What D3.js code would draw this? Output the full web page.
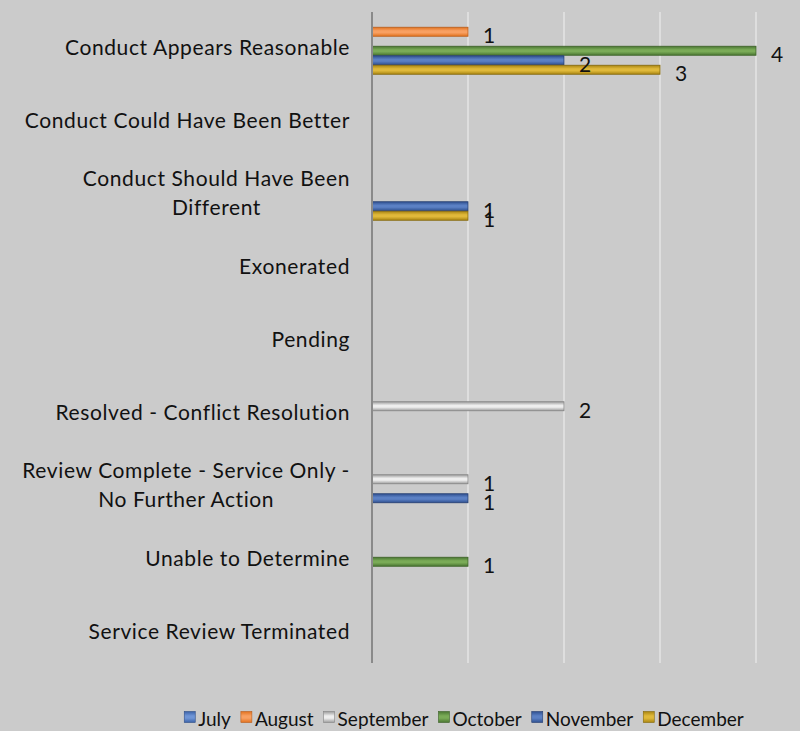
<!DOCTYPE html>
<html>
<head>
<meta charset="utf-8">
<script src="https://cdn.jsdelivr.net/npm/d3@7"></script>
<style>
  html, body { margin: 0; padding: 0; background: #cbcbcb; }
  svg { display: block; }
  text { font-family: "Lato", "Liberation Sans", sans-serif; fill: #111; }
</style>
</head>
<body>
<svg id="chart" width="800" height="731"></svg>
<script>
// ---- data ----
const categories = [
  ["Conduct Appears Reasonable"],
  ["Conduct Could Have Been Better"],
  ["Conduct Should Have Been", "Different"],
  ["Exonerated"],
  ["Pending"],
  ["Resolved - Conflict Resolution"],
  ["Review Complete - Service Only -", "No Further Action"],
  ["Unable to Determine"],
  ["Service Review Terminated"]
];
const seriesNames = ["July", "August", "September", "October", "November", "December"];
const july      = [null, null, null, null, null, null, null, null, null];
const august    = [1,    null, null, null, null, null, null, null, null];
const september = [null, null, null, null, null, 2,    1,    null, null];
const october   = [4,    null, null, null, null, null, null, 1,    null];
const november  = [2,    null, 1,    null, null, null, 1,    null, null];
const december  = [3,    null, 1,    null, null, null, null, null, null];
const xTicks = [0, 1, 2, 3, 4];

const seriesValues = [july, august, september, october, november, december];
const colors = {
  July:      { mid: "#6f95d6", edge: "#3b62a8", stroke: "#2f4f88" },
  August:    { mid: "#f8a062", edge: "#e2721f", stroke: "#b85e1e" },
  September: { mid: "#eeeeee", edge: "#9c9c9c", stroke: "#858585" },
  October:   { mid: "#7aab57", edge: "#4a7632", stroke: "#3d6228" },
  November:  { mid: "#5b80c4", edge: "#2f5090", stroke: "#263f72" },
  December:  { mid: "#e0b93a", edge: "#a98512", stroke: "#86690c" }
};

// ---- layout ----
const svg = d3.select("#chart");
const plotLeft = 372, plotRight = 756, plotTop = 9.5, plotBottom = 666.5;
const fontSize = 21;

const x = d3.scaleLinear().domain([0, 4]).range([plotLeft, plotRight]);
const catKeys = categories.map(c => c.join(" "));
const y = d3.scaleBand().domain(catKeys).range([plotTop, plotBottom]);
const bw = y.bandwidth();
const groupSpan = 57;
const yInner = d3.scaleBand().domain(seriesNames)
  .range([(bw - groupSpan) / 2, (bw + groupSpan) / 2]);
const barH = yInner.step() * 0.95;

// gradients
const defs = svg.append("defs");
seriesNames.forEach((s, i) => {
  const g = defs.append("linearGradient").attr("id", "g" + i)
    .attr("x1", 0).attr("y1", 0).attr("x2", 0).attr("y2", 1);
  g.append("stop").attr("offset", "0%").attr("stop-color", colors[s].edge);
  g.append("stop").attr("offset", "40%").attr("stop-color", colors[s].mid);
  g.append("stop").attr("offset", "60%").attr("stop-color", colors[s].mid);
  g.append("stop").attr("offset", "100%").attr("stop-color", colors[s].edge);
});

// gridlines
svg.append("g").selectAll("line").data(xTicks.filter(d => d > 0)).join("line")
  .attr("x1", d => x(d)).attr("x2", d => x(d))
  .attr("y1", 12).attr("y2", 663)
  .attr("stroke", "#e4e4e4").attr("stroke-width", 1.5);

// bars
const flat = [];
seriesNames.forEach((s, si) => {
  seriesValues[si].forEach((v, ci) => {
    if (v !== null && v !== undefined) flat.push({ s, si, ci, v });
  });
});

const bars = svg.append("g");
bars.selectAll("rect").data(flat).join("rect")
  .attr("x", x(0))
  .attr("y", d => y(catKeys[d.ci]) + yInner(d.s) + (yInner.step() - barH) / 2)
  .attr("width", d => x(d.v) - x(0))
  .attr("height", barH)
  .attr("fill", d => "url(#g" + d.si + ")")
  .attr("stroke", d => colors[d.s].stroke)
  .attr("stroke-width", 0.8);

// value labels
svg.append("g").selectAll("text").data(flat).join("text")
  .attr("x", d => x(d.v) + 15)
  .attr("y", d => y(catKeys[d.ci]) + yInner(d.s) + yInner.step() / 2 + 3)
  .attr("dominant-baseline", "central")
  .attr("font-size", fontSize)
  .text(d => d.v);

// axis line (category axis at x=0)
svg.append("line")
  .attr("x1", x(0)).attr("x2", x(0))
  .attr("y1", 12).attr("y2", 663)
  .attr("stroke", "#8a8a8a").attr("stroke-width", 2);

// category labels (right aligned block, lines centered)
const lineH = 29;
const labG = svg.append("g");
categories.forEach((lines, ci) => {
  const cy = y(catKeys[ci]) + bw / 2;
  const g = labG.append("g");
  const texts = lines.map((t, li) =>
    g.append("text")
      .attr("font-size", fontSize)
      .attr("letter-spacing", "0.6px")
      .attr("dominant-baseline", "central")
      .attr("y", cy + (li - (lines.length - 1) / 2) * lineH)
      .text(t));
  const widths = texts.map(t => t.node().getComputedTextLength());
  const maxW = d3.max(widths);
  const blockCenter = 350 - maxW / 2;
  texts.forEach(t => t.attr("x", blockCenter).attr("text-anchor", "middle"));
});

// legend
const legend = svg.append("g");
const sw = 11, gapText = 3, gapItem = 10;
const items = seriesNames.map(s => {
  const t = legend.append("text").attr("font-size", 19)
    .attr("dominant-baseline", "central").attr("y", 718).text(s);
  return { s, t, w: t.node().getComputedTextLength() };
});
const total = d3.sum(items, d => sw + gapText + d.w) + gapItem * (items.length - 1);
let cx = 464 - total / 2;
items.forEach((it, i) => {
  legend.append("rect").attr("x", cx).attr("y", 718 - sw / 2 - 1)
    .attr("width", sw).attr("height", sw)
    .attr("fill", "url(#g" + i + ")")
    .attr("stroke", colors[it.s].stroke).attr("stroke-width", 0.6);
  it.t.attr("x", cx + sw + gapText);
  cx += sw + gapText + it.w + gapItem;
});
</script>
</body>
</html>
